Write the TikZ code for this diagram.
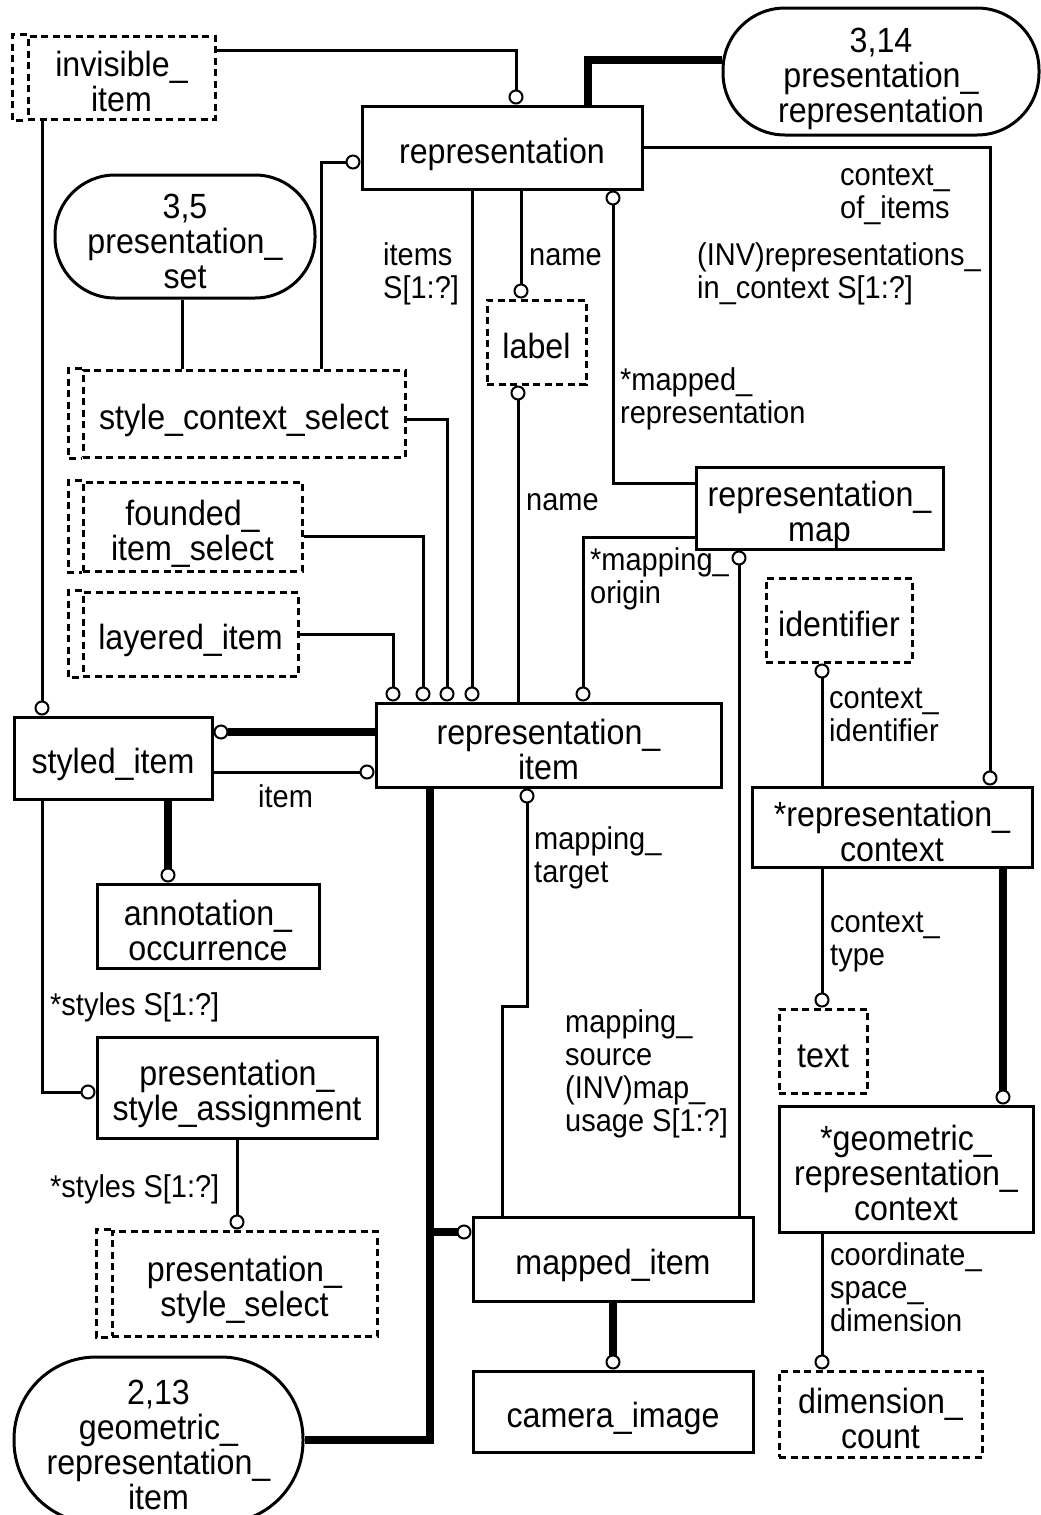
\documentclass[tikz,border=0pt]{standalone}
\usepackage{fontspec}
\setmainfont{Liberation Sans}[FakeStretch=0.92]
\usetikzlibrary{arrows.meta,calc}
\newcommand\entfont{\fontsize{35}{35}\selectfont}
\newcommand\labfont{\fontsize{31.5}{33}\selectfont}
\begin{document}
\begin{tikzpicture}[x=1pt,y=-1pt,
  tp/.style={execute at begin node={\rule{0pt}{#1}}},
  ent/.style={draw,line width=3pt,inner sep=0pt,align=center,font=\entfont,
    tp=39pt,
    execute at end node={\rule[-6pt]{0pt}{6pt}}},
  two/.style={tp=74pt},
  three/.style={tp=109pt},
  four/.style={tp=144pt},
  dtype/.style={ent,dash pattern=on 7pt off 4.5pt},
  ovl/.style={ent},
  lab/.style={inner sep=0pt,anchor=north west,align=left,font=\labfont},
  rel/.style={line width=3pt},
  sub/.style={line width=7.5pt},
  dsh/.style={line width=3pt,dash pattern=on 7pt off 4.5pt},
  o/.style={-{Circle[length=15pt,fill=white,line width=2pt]}}
]
\useasboundingbox (0,0) rectangle (1041,1515);
\clip (0,0) rectangle (1041,1515);

% ---------- nodes ----------
\node[dtype,two,minimum width=187pt,minimum height=83pt] (inv) at (121.5,77.5) {invisible\_\\item};
\draw[dsh] (inv.north west) -- ([xshift=-14pt]inv.north west) -- ([xshift=-14pt]inv.south west) -- (inv.south west);

\node[ent,minimum width=280pt,minimum height=83pt] (rep) at (502,147.5) {representation};

\node[ovl,three,rounded corners=62pt,minimum width=316pt,minimum height=127pt] (pr) at (881,71.5) {3,14\\presentation\_\\representation};

\node[ovl,three,rounded corners=60pt,minimum width=260pt,minimum height=123pt] (pset) at (185,236.5) {3,5\\presentation\_\\set};

\node[dtype,minimum width=99pt,minimum height=84pt] (lbl) at (536.5,342) {label};

\node[dtype,minimum width=322pt,minimum height=87pt] (scs) at (244,413.5) {style\_context\_select};
\draw[dsh] (scs.north west) -- ([xshift=-13pt]scs.north west) -- ([xshift=-13pt]scs.south west) -- (scs.south west);

\node[dtype,two,minimum width=219pt,minimum height=89pt] (fis) at (192.5,526.5) {founded\_\\item\_select};
\draw[dsh] (fis.north west) -- ([xshift=-13pt]fis.north west) -- ([xshift=-13pt]fis.south west) -- (fis.south west);

\node[dtype,minimum width=215pt,minimum height=84pt] (li) at (190.5,634) {layered\_item};
\draw[dsh] (li.north west) -- ([xshift=-13pt]li.north west) -- ([xshift=-13pt]li.south west) -- (li.south west);

\node[ent,minimum width=198pt,minimum height=82pt] (si) at (113,758) {styled\_item};
\node[ent,two,minimum width=345pt,minimum height=84pt] (ri) at (548.5,745) {representation\_\\item};
\node[ent,two,minimum width=247pt,minimum height=82pt] (rm) at (819.5,508) {representation\_\\map};
\node[dtype,minimum width=146pt,minimum height=84pt] (idf) at (839,620) {identifier};
\node[ent,two,minimum width=280pt,minimum height=80pt] (rc) at (892,827) {*representation\_\\context};
\node[ent,two,minimum width=222pt,minimum height=84pt] (ao) at (208,926) {annotation\_\\occurrence};
\node[ent,two,minimum width=280pt,minimum height=101pt] (psa) at (237,1087.5) {presentation\_\\style\_assignment};
\node[dtype,minimum width=88pt,minimum height=84pt] (txt) at (823,1051) {text};
\node[ent,three,minimum width=254pt,minimum height=126pt] (grc) at (906,1169) {*geometric\_\\representation\_\\context};

\node[dtype,two,minimum width=265pt,minimum height=105pt] (pss) at (244.5,1283.5) {presentation\_\\style\_select};
\draw[dsh] (pss.north west) -- ([xshift=-14pt]pss.north west) -- ([xshift=-14pt]pss.south west) -- (pss.south west);

\node[ent,minimum width=280pt,minimum height=84pt] (mi) at (613,1259) {mapped\_item};
\node[ent,minimum width=280pt,minimum height=81pt] (ci) at (613,1411.5) {camera\_image};
\node[dtype,two,minimum width=203pt,minimum height=86pt] (dc) at (880.5,1414) {dimension\_\\count};

\node[ovl,four,rounded corners=82pt,minimum width=289pt,minimum height=166pt] (gri) at (158.5,1440) {2,13\\geometric\_\\representation\_\\item};

% ---------- ports ----------
\coordinate (p1) at ([yshift=27.5pt]inv.east);
\coordinate (p1e) at ([xshift=14pt]rep.north);
\coordinate (p2) at ([xshift=-79.5pt]inv.south);
\coordinate (p3) at ([xshift=86pt]rep.north);
\coordinate (p3e) at ([yshift=11.5pt]pr.west);
\coordinate (p4) at ([xshift=77pt]scs.north);
\coordinate (p4e) at ([yshift=-14.5pt]rep.west);
\coordinate (p5) at ([xshift=-3pt]pset.south);
\coordinate (p6e) at ([xshift=98pt]rc.north);
\coordinate (p7) at ([xshift=-30pt]rep.south);
\coordinate (p8) at ([xshift=19pt]rep.south);
\coordinate (p9) at ([yshift=25pt]rm.west);
\coordinate (p9e) at ([xshift=111pt]rep.south);
\coordinate (p10) at ([yshift=-5.5pt]scs.east);
\coordinate (p10e) at ([xshift=-101.5pt]ri.north);
\coordinate (p11) at ([yshift=-9.5pt]fis.east);
\coordinate (p11e) at ([xshift=-125.5pt]ri.north);
\coordinate (p12e) at ([xshift=-155.5pt]ri.north);
\coordinate (p13) at ([xshift=-30.5pt]ri.north);
\coordinate (p14) at ([yshift=-29pt]rm.west);
\coordinate (p14e) at ([xshift=34.5pt]ri.north);
\coordinate (p15) at ([xshift=126pt]mi.north);
\coordinate (p16) at ([yshift=13pt]ri.west);
\coordinate (p17) at ([yshift=-14pt]si.east);
\coordinate (p18) at ([xshift=55pt]si.south);
\coordinate (p19) at ([xshift=-71pt]si.south);
\coordinate (p19e) at ([yshift=-4.5pt]psa.west);
\coordinate (p21) at ([xshift=-118.5pt]ri.south);
\coordinate (p21e) at ([yshift=0pt]gri.east);
\coordinate (p21m) at ([yshift=27pt]mi.west);
\coordinate (p22) at ([xshift=-21.5pt]ri.south);
\coordinate (p22s) at ([xshift=-111pt]mi.north);
\coordinate (p24) at ([xshift=-70pt]rc.north);
\coordinate (p25) at ([xshift=-70pt]rc.south);
\coordinate (p26) at ([xshift=111pt]rc.south);
\coordinate (p27) at ([xshift=-84pt]grc.south);

% ---------- connectors ----------
\draw[rel,o] (p1) -| (p1e);
\draw[rel,o] (p2) -- (p2 |- si.north);
\draw[sub] (p3) |- (p3e);
\draw[rel,o] (p4) |- (p4e);
\draw[rel] (p5) -- (p5 |- scs.north);
\draw[rel,o] (rep.east) -| (p6e);
\draw[rel,o] (p7) -- (p7 |- ri.north);
\draw[rel,o] (p8) -- (p8 |- lbl.north);
\draw[rel,o] (p9) -| (p9e);
\draw[rel,o] (p10) -| (p10e);
\draw[rel,o] (p11) -| (p11e);
\draw[rel,o] (li.east) -| (p12e);
\draw[rel,o] (p13) -- (p13 |- lbl.south);
\draw[rel,o] (p14) -| (p14e);
\draw[rel,o] (p15) -- (p15 |- rm.south);
\draw[sub,o] (p16) -- (p16 -| si.east);
\draw[rel,o] (p17) -- (p17 -| ri.west);
\draw[sub,o] (p18) -- (p18 |- ao.north);
\draw[rel,o] (p19) |- (p19e);
\draw[rel,o] (psa.south) -- (psa.south |- pss.north);
\draw[sub] (p21) |- (p21e);
\draw[sub,o] (p21 |- p21m) -- (p21m);
\draw[rel,o] (p22s) -- ++(0,-209) -| (p22);
\draw[sub,o] (mi.south) -- (ci.north);
\draw[rel,o] (p24) -- (p24 |- idf.south);
\draw[rel,o] (p25) -- (p25 |- txt.north);
\draw[sub,o] (p26) -- (p26 |- grc.north);
\draw[rel,o] (p27) -- (p27 |- dc.north);

% ---------- labels ----------
\node[lab] (lItems) at (383,242) {\strut items\\S[1:?]};
\node[lab] (lName1) at (529,242) {\strut name};
\node[lab] (lCtx) at (840,162) {\strut context\_\\of\_items};
\node[lab] (lInv) at (697,242) {\strut (INV)representations\_\\in\_context S[1:?]};
\node[lab] (lMapRep) at (620,367) {\strut *mapped\_\\representation};
\node[lab] (lName2) at (526,487) {\strut name};
\node[lab] (lOrigin) at (590,547) {\strut *mapping\_\\origin};
\node[lab] (lItem) at (258,784) {\strut item};
\node[lab] (lTarget) at (534,826) {\strut mapping\_\\target};
\node[lab] (lSource) at (565,1009) {\strut mapping\_\\source\\(INV)map\_\\usage S[1:?]};
\node[lab] (lStyles1) at (50,992) {\strut *styles S[1:?]};
\node[lab] (lStyles2) at (50,1174) {\strut *styles S[1:?]};
\node[lab] (lCid) at (829,685) {\strut context\_\\identifier};
\node[lab] (lCtype) at (830,909) {\strut context\_\\type};
\node[lab] (lCoord) at (830,1242) {\strut coordinate\_\\space\_\\dimension};
\end{tikzpicture}
\end{document}
